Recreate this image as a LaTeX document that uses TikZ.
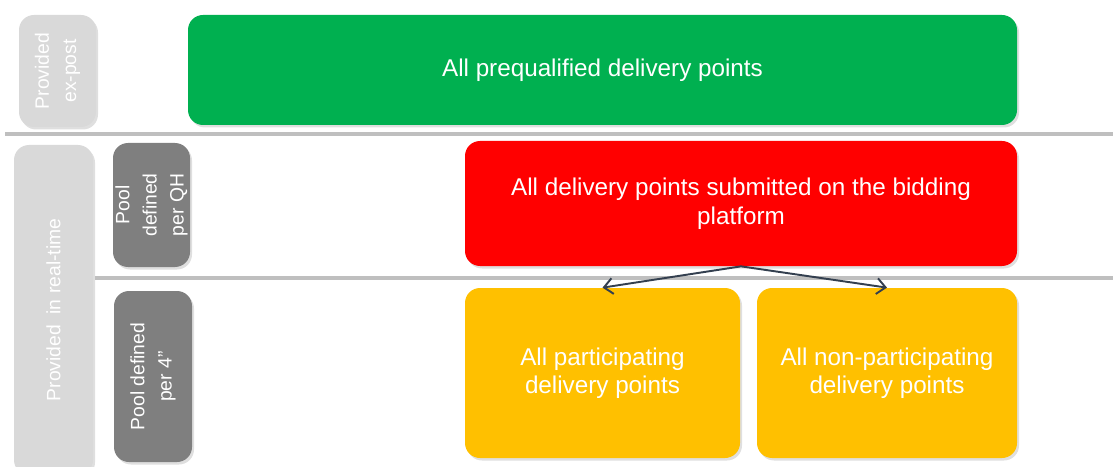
\documentclass[tikz,border=0pt]{standalone}
\usepackage{fontspec}
\setmainfont{Liberation Sans}
\usetikzlibrary{arrows.meta,shadows}

\definecolor{boxgreen}{HTML}{00B050}
\definecolor{boxred}{HTML}{FF0000}
\definecolor{boxyellow}{HTML}{FFC000}
\definecolor{lightside}{HTML}{D9D9D9}
\definecolor{darkside}{HTML}{7F7F7F}
\definecolor{arrowgray}{HTML}{333F4F}

\tikzset{>={Straight Barb[length=5pt,width=9pt]}}
\tikzset{
	pool/.style={rounded corners=0.3cm, text=white, align=center,
		font=\fontsize{13.8}{16.2}\selectfont, inner sep=0pt,
		drop shadow={shadow xshift=0.04cm, shadow yshift=-0.05cm, opacity=0.25}},
	side/.style={pool, rotate=90, font=\fontsize{11}{15.4}\selectfont},
	sep/.style={gray!50, line width=2.2pt}
}

\begin{document}
\begin{tikzpicture}
		
			\useasboundingbox (0,0) rectangle (22.26,9.32);
			
			% left column
			\node[side, fill=lightside, minimum width=2.24cm, minimum height=1.54cm] (expost) at (1.15,7.9) {Provided\\ex-post};
			\node[side, fill=lightside, minimum width=6.6cm, minimum height=1.58cm] (realtime) at (1.07,3.12) {Provided\ \ in real-time};
			\node[side, fill=darkside, minimum width=2.48cm, minimum height=1.54cm] (poolqh) at (3.03,5.22) {Pool\\defined\\per QH};
			\node[side, fill=darkside, minimum width=3.42cm, minimum height=1.56cm] (poolfour) at (3.06,1.79) {Pool defined\\per 4”};
			
			% separators
			\draw[sep] (0.1,6.64) -- (22.26,6.64);
			\draw[sep] (1.9,3.76) -- (22.26,3.76);
			
			% pools
			\node[pool, fill=boxgreen, minimum width=16.58cm, minimum height=2.2cm] (prequal) at (12.05,7.92) {All prequalified delivery points};
			\node[pool, fill=boxred, minimum width=11.04cm, minimum height=2.5cm] (submitted) at (14.82,5.25) {All delivery points submitted on the bidding\\platform};
			\node[pool, fill=boxyellow, minimum width=5.5cm, minimum height=3.4cm] (partic) at (12.05,1.86) {All participating\\delivery points};
			\node[pool, fill=boxyellow, minimum width=5.2cm, minimum height=3.4cm] (nonpartic) at (17.74,1.86) {All non-participating\\delivery points};
			
			\draw[->, arrowgray, line width=1.1pt] (submitted.south) -- (partic.north);
			\draw[->, arrowgray, line width=1.1pt] (submitted.south) -- (nonpartic.north);
			
		\end{tikzpicture}
\end{document}
